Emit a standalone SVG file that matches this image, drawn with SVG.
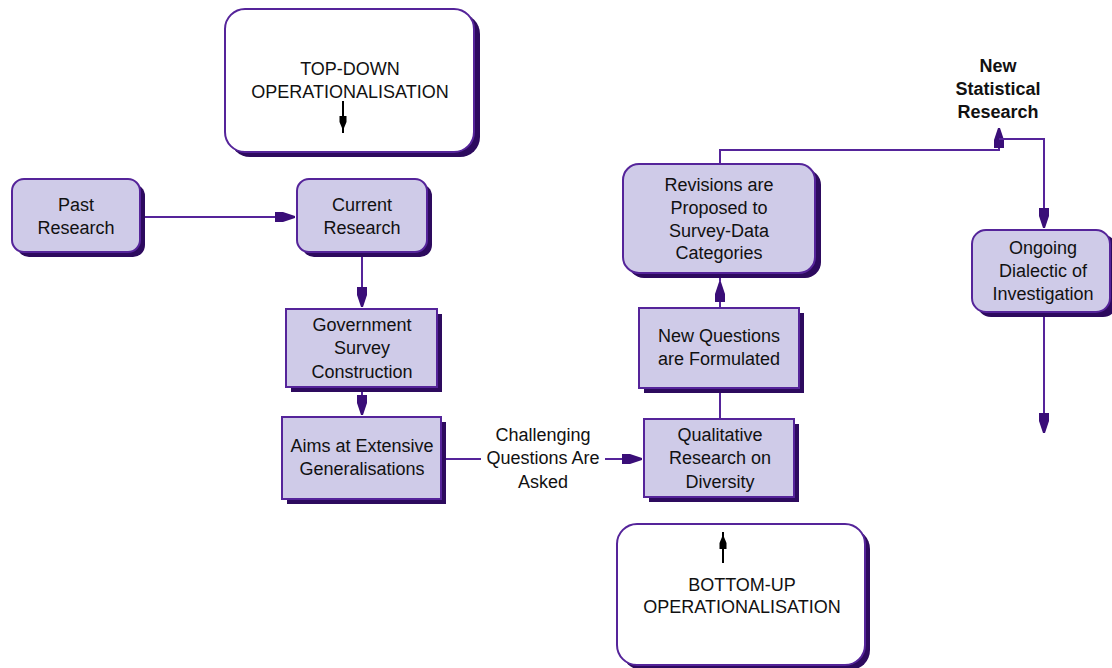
<svg xmlns="http://www.w3.org/2000/svg" width="1112" height="668" viewBox="0 0 1112 668">
<style>
.box{fill:#CFCBE8;stroke:#55249A;stroke-width:2}
.wbox{fill:#FFFFFF;stroke:#55249A;stroke-width:2}
.sh{fill:#2D0A5E}
.t{font-family:"Liberation Sans",Arial,sans-serif;font-size:18px;fill:#111;text-anchor:middle}
.b{font-weight:bold}
.c{fill:none;stroke:#55249A;stroke-width:2}
.k{fill:none;stroke:#000;stroke-width:2}
</style>
<defs>
<marker id="ah" markerUnits="userSpaceOnUse" orient="auto" refX="0" refY="0" markerWidth="24" markerHeight="14" overflow="visible">
<path d="M-20,-5 L-12,-5 L0,-1 L0,1 L-12,5 L-20,5 Z" fill="#3A0E78"/>
</marker>
<marker id="ak" markerUnits="userSpaceOnUse" orient="auto" refX="0" refY="0" markerWidth="16" markerHeight="10" overflow="visible">
<path d="M-12,-3.5 L-6,-3.5 L0,-1 L0,1 L-6,3.5 L-12,3.5 Z" fill="#000"/>
</marker>
</defs>

<g id="topdown">
<rect class="sh" x="230" y="14" width="250" height="143" rx="20"/>
<rect class="wbox" x="225" y="9" width="249" height="143" rx="20"/>
<text class="t" x="350" y="75">TOP-DOWN</text>
<text class="t" x="350" y="98">OPERATIONALISATION</text>
<path class="k" d="M343,101 V128" marker-end="url(#ak)"/>
<path class="k" d="M343,127 V133"/>
</g>

<g id="past">
<rect class="sh" x="17" y="184" width="128" height="73" rx="12"/>
<rect class="box" x="12" y="179" width="128" height="73" rx="12"/>
<text class="t" x="76" y="211">Past</text>
<text class="t" x="76" y="234">Research</text>
</g>

<g id="current">
<rect class="sh" x="302" y="184" width="130" height="73" rx="12"/>
<rect class="box" x="297" y="179" width="130" height="73" rx="12"/>
<text class="t" x="362" y="211">Current</text>
<text class="t" x="362" y="234">Research</text>
</g>

<g id="gov">
<rect class="sh" x="291" y="314" width="151" height="78"/>
<rect class="box" x="286" y="309" width="151" height="78"/>
<text class="t" x="362" y="331">Government</text>
<text class="t" x="362" y="354">Survey</text>
<text class="t" x="362" y="378">Construction</text>
</g>

<g id="aims">
<rect class="sh" x="287" y="422" width="159" height="82"/>
<rect class="box" x="282" y="417" width="159" height="82"/>
<text class="t" x="362" y="452">Aims at Extensive</text>
<text class="t" x="362" y="475">Generalisations</text>
</g>

<g id="qual">
<rect class="sh" x="649" y="424" width="150" height="78"/>
<rect class="box" x="644" y="419" width="150" height="78"/>
<text class="t" x="720" y="441">Qualitative</text>
<text class="t" x="720" y="464">Research on</text>
<text class="t" x="720" y="488">Diversity</text>
</g>

<g id="newq">
<rect class="sh" x="644" y="313" width="160" height="80"/>
<rect class="box" x="639" y="308" width="160" height="80"/>
<text class="t" x="719" y="342">New Questions</text>
<text class="t" x="719" y="365">are Formulated</text>
</g>

<g id="revisions">
<rect class="sh" x="628" y="169" width="193" height="109" rx="16"/>
<rect class="box" x="623" y="164" width="192" height="109" rx="16"/>
<text class="t" x="719" y="191">Revisions are</text>
<text class="t" x="719" y="214">Proposed to</text>
<text class="t" x="719" y="237">Survey-Data</text>
<text class="t" x="719" y="259">Categories</text>
</g>

<g id="ongoing">
<rect class="sh" x="977" y="235" width="140" height="82" rx="14"/>
<rect class="box" x="972" y="230" width="138" height="82" rx="14"/>
<text class="t" x="1043" y="254">Ongoing</text>
<text class="t" x="1043" y="277">Dialectic of</text>
<text class="t" x="1043" y="300">Investigation</text>
</g>

<g id="newstat">
<text class="t b" x="998" y="72">New</text>
<text class="t b" x="998" y="95">Statistical</text>
<text class="t b" x="998" y="118">Research</text>
</g>

<g id="bottomup">
<rect class="sh" x="622" y="529" width="248" height="141" rx="20"/>
<rect class="wbox" x="617" y="524" width="248" height="141" rx="20"/>
<text class="t" x="742" y="591">BOTTOM-UP</text>
<text class="t" x="742" y="613">OPERATIONALISATION</text>
<path class="k" d="M723,563 V537" marker-end="url(#ak)"/>
<path class="k" d="M723,538 V532"/>
</g>

<g id="connectors">
<path class="c" d="M145,217 H295" marker-end="url(#ah)"/>
<path class="c" d="M362,257 V307" marker-end="url(#ah)"/>
<path class="c" d="M362,392 V415" marker-end="url(#ah)"/>
<path class="c" d="M446,459 H481"/>
<path class="c" d="M605,459 H642" marker-end="url(#ah)"/>
<text class="t" x="543" y="441">Challenging</text>
<text class="t" x="543" y="464">Questions Are</text>
<text class="t" x="543" y="488">Asked</text>
<path class="c" d="M720,393 V419"/>
<path class="c" d="M720,308 V282" marker-end="url(#ah)"/>
<path class="c" d="M720,278 V282"/>
<path class="c" d="M720,164 V150 H999 V128" marker-end="url(#ah)"/>
<path class="c" d="M999,139 H1044 V228" marker-end="url(#ah)"/>
<path class="c" d="M1044,317 V433" marker-end="url(#ah)"/>
</g>
</svg>
